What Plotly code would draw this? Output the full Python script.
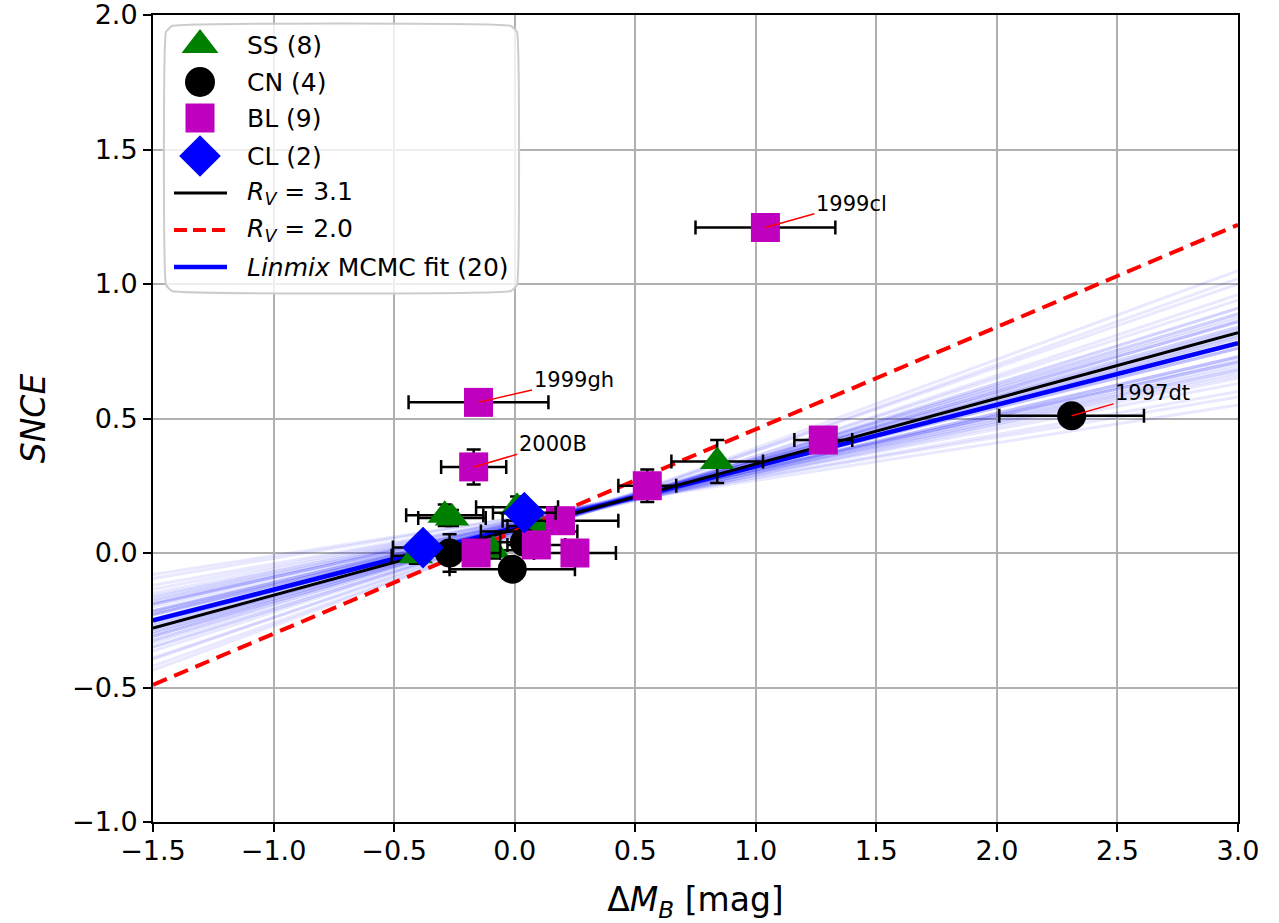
import plotly.graph_objects as go

# ---------------- data ----------------
ss_x = [-0.41, -0.29, -0.26, -0.09, 0.01, 0.06, 0.09, 0.84]
ss_y = [-0.01, 0.14, 0.13, 0.01, 0.17, 0.08, 0.10, 0.34]
ss_xerr = [0.10, 0.16, 0.14, 0.15, 0.17, 0.20, 0.12, 0.19]
ss_yerr = [0.03, 0.04, 0.03, 0.03, 0.04, 0.05, 0.04, 0.08]

cn_x = [-0.27, -0.01, 0.04, 2.31]
cn_y = [0.00, -0.06, 0.04, 0.51]
cn_xerr = [0.10, 0.26, 0.10, 0.30]
cn_yerr = [0.07, 0.03, 0.03, 0.02]

bl_x = [1.04, -0.15, -0.17, 0.55, 1.28, 0.25, 0.19, -0.16, 0.09]
bl_y = [1.21, 0.56, 0.32, 0.25, 0.42, 0.00, 0.12, 0.00, 0.03]
bl_xerr = [0.29, 0.29, 0.135, 0.12, 0.12, 0.17, 0.24, 0.10, 0.12]
bl_yerr = [0.02, 0.02, 0.065, 0.06, 0.03, 0.02, 0.04, 0.03, 0.03]

cl_x = [-0.38, 0.04]
cl_y = [0.02, 0.15]
cl_xerr = [0.125, 0.13]
cl_yerr = [0.03, 0.03]

# straight relations: (intercept, slope)
rv31 = (0.087, 0.244)
rv20 = (0.080, 0.380)
linmix = (0.093, 0.229)

# MCMC posterior draws
mcmc_slope = [0.21, 0.25, 0.19, 0.28, 0.23, 0.17, 0.26, 0.22, 0.30, 0.20,
              0.24, 0.15, 0.27, 0.23, 0.18, 0.32, 0.21, 0.25, 0.19, 0.29,
              0.22, 0.16, 0.26, 0.24, 0.20, 0.31, 0.23, 0.18, 0.27, 0.21,
              0.14, 0.25, 0.22, 0.28, 0.19, 0.24, 0.33, 0.20, 0.26, 0.23,
              0.22, 0.25, 0.21, 0.24, 0.27, 0.20, 0.23, 0.26, 0.19, 0.24]
mcmc_icept = [0.10, 0.08, 0.11, 0.07, 0.09, 0.12, 0.08, 0.10, 0.06, 0.11,
              0.09, 0.13, 0.07, 0.10, 0.12, 0.06, 0.09, 0.08, 0.10, 0.07,
              0.11, 0.12, 0.09, 0.08, 0.10, 0.07, 0.09, 0.11, 0.08, 0.10,
              0.13, 0.09, 0.10, 0.07, 0.12, 0.09, 0.06, 0.11, 0.08, 0.09,
              0.10, 0.09, 0.10, 0.08, 0.08, 0.11, 0.09, 0.08, 0.11, 0.10]

labels = ["1999cl", "1999gh", "2000B", "1997dt"]
label_x = [1.04, -0.15, -0.17, 2.31]
label_y = [1.21, 0.56, 0.32, 0.51]

legend_names = ["SS (8)", "CN (4)", "BL (9)", "CL (2)",
                "<i>R</i><sub><i>V</i></sub> = 3.1",
                "<i>R</i><sub><i>V</i></sub> = 2.0",
                "<i>Linmix</i> MCMC fit (20)"]

x_range = [-1.5, 3.0]
x_ticks = [-1.5, -1.0, -0.5, 0.0, 0.5, 1.0, 1.5, 2.0, 2.5, 3.0]
y_range = [-1.0, 2.0]
y_ticks = [-1.0, -0.5, 0.0, 0.5, 1.0, 1.5, 2.0]

FONT = "DejaVu Sans"
GREEN, BLACK, MAGENTA, BLUE, RED = "#008000", "#000000", "#bf00bf", "#0000ff", "#ff0000"

# page-pixel frame of the plotting area (used for the hand-built legend layer)
W, H = 1279, 923
ML, MR, MT, MB = 153, 41, 15, 101
PX0, PX1, PY0, PY1 = ML, W - MR, MT, H - MB

fig = go.Figure()

# faint MCMC lines
for a, b in zip(mcmc_icept, mcmc_slope):
    fig.add_trace(go.Scatter(
        x=x_range, y=[a + b * x_range[0], a + b * x_range[1]],
        mode="lines", line=dict(color="rgba(0,0,255,0.09)", width=3),
        showlegend=False, hoverinfo="skip"))

def line_y(par):
    a, b = par
    return [a + b * x_range[0], a + b * x_range[1]]

fig.add_trace(go.Scatter(x=x_range, y=line_y(linmix), mode="lines", showlegend=False,
                         line=dict(color=BLUE, width=4.5)))
fig.add_trace(go.Scatter(x=x_range, y=line_y(rv31), mode="lines", showlegend=False,
                         line=dict(color=BLACK, width=3)))
fig.add_trace(go.Scatter(x=x_range, y=line_y(rv20), mode="lines", showlegend=False,
                         line=dict(color=RED, width=4, dash="15px,8px")))

def add_pts(x, y, xe, ye, symbol, color, size):
    fig.add_trace(go.Scatter(
        x=x, y=y, mode="markers", showlegend=False,
        marker=dict(symbol=symbol, color=color, size=size, line=dict(width=0)),
        error_x=dict(type="data", array=xe, color="black", thickness=2.5, width=7),
        error_y=dict(type="data", array=ye, color="black", thickness=2.5, width=7)))

add_pts(ss_x, ss_y, ss_xerr, ss_yerr, "triangle-up", GREEN, 30)
add_pts(cn_x, cn_y, cn_xerr, cn_yerr, "circle", BLACK, 29)
add_pts(bl_x, bl_y, bl_xerr, bl_yerr, "square", MAGENTA, 29)
add_pts(cl_x, cl_y, cl_xerr, cl_yerr, "diamond", BLUE, 32)

offsets = [(86, -24), (95, -22), (79, -23), (81, -23)]
for t, px, py, (ax, ay) in zip(labels, label_x, label_y, offsets):
    fig.add_annotation(x=px, y=py, text=t, showarrow=True, arrowhead=0,
                       arrowcolor="red", arrowwidth=1.5, standoff=0,
                       ax=ax, ay=ay, font=dict(family=FONT, size=21, color="black"))

# ---------- legend layer (overlay axes in page pixels) ----------
bx0, bx1, by0, by1, rr = 166, 517, 26, 291, 6
box_path_x = [bx0 + rr, bx1 - rr, bx1, bx1, bx1 - rr, bx0 + rr, bx0, bx0, bx0 + rr]
box_path_y = [by0, by0, by0 + rr, by1 - rr, by1, by1, by1 - rr, by0 + rr, by0]
fig.add_trace(go.Scatter(x=box_path_x, y=box_path_y, xaxis="x2", yaxis="y2",
                         mode="lines", fill="toself", fillcolor="rgba(255,255,255,0.8)",
                         line=dict(color="#cccccc", width=2, shape="spline", smoothing=0.3),
                         showlegend=False, hoverinfo="skip"))
row_y = [45, 82, 118, 156, 193, 230, 267]
sym_x = 200
leg_markers = [("triangle-up", GREEN, 32), ("circle", BLACK, 30),
               ("square", MAGENTA, 29), ("diamond", BLUE, 32)]
for (sym, col, sz), yy in zip(leg_markers, row_y[:4]):
    fig.add_trace(go.Scatter(x=[sym_x], y=[yy], xaxis="x2", yaxis="y2", mode="markers",
                             marker=dict(symbol=sym, color=col, size=sz, line=dict(width=0)),
                             showlegend=False, hoverinfo="skip"))
leg_lines = [(BLACK, 3, "solid"), (RED, 4, "13px,6px"), (BLUE, 4.5, "solid")]
for (col, wd, ds), yy in zip(leg_lines, row_y[4:]):
    fig.add_trace(go.Scatter(x=[174, 227], y=[yy, yy], xaxis="x2", yaxis="y2", mode="lines",
                             line=dict(color=col, width=wd, dash=ds),
                             showlegend=False, hoverinfo="skip"))
for name, yy in zip(legend_names, row_y):
    fig.add_annotation(x=245, y=yy, xref="x2", yref="y2", text=name, showarrow=False,
                       xanchor="left", yanchor="middle",
                       font=dict(family=FONT, size=25, color="black"))

axis_common = dict(showgrid=True, gridcolor="#b0b0b0", gridwidth=1.5,
                   showline=True, linecolor="black", linewidth=2, mirror=True,
                   ticks="outside", ticklen=8, tickwidth=1.5, tickcolor="black",
                   tickfont=dict(family=FONT, size=27, color="black"),
                   zeroline=False, tickformat=".1f", ticklabeloverflow="allow",
                   automargin=False)

fig.update_layout(
    width=W, height=H,
    margin=dict(l=ML, r=MR, t=MT, b=MB, autoexpand=False),
    paper_bgcolor="white", plot_bgcolor="white",
    font=dict(family=FONT, color="black"),
    xaxis=dict(range=x_range, tickvals=x_ticks, ticklabelstandoff=-4,
               title=dict(text="Δ<i>M</i><sub><i>B</i></sub> [mag]",
                          font=dict(family=FONT, size=33), standoff=23),
               **axis_common),
    yaxis=dict(range=y_range, tickvals=y_ticks,
               title=dict(text="<i>SNCE</i>", font=dict(family=FONT, size=33), standoff=16),
               **axis_common),
    xaxis2=dict(overlaying="x", range=[PX0, PX1], visible=False, fixedrange=True),
    yaxis2=dict(overlaying="y", range=[PY1, PY0], visible=False, fixedrange=True),
    showlegend=False,
)

fig.write_html("out.html", post_script="document.body.style.margin='0px';",
               config={"displayModeBar": False})
